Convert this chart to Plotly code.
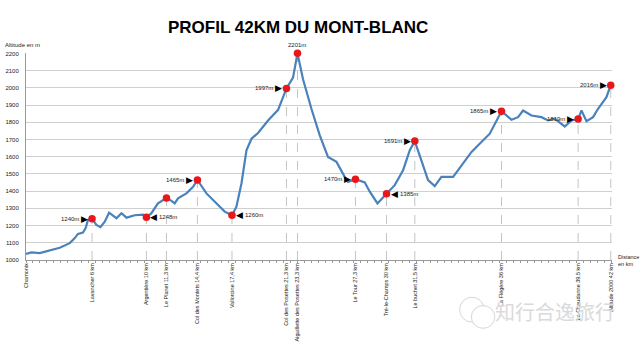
import plotly.graph_objects as go

# Elevation profile of the course (distance in km, altitude in m)
dist_km = [0.0, 0.39, 0.98, 1.70, 2.42, 3.14, 3.50, 3.73, 4.09, 4.28, 4.45, 4.74,
           5.05, 5.34, 5.65, 5.96, 6.24, 6.49, 6.85, 7.21, 7.80, 8.40, 8.64,
           9.00, 9.47, 10.08, 10.44, 10.67, 10.91, 11.51, 11.99, 12.30,
           12.95, 13.67, 14.26, 14.78, 15.10, 15.46, 15.82, 16.18, 16.65,
           17.37, 18.09, 18.69, 19.16, 19.48, 19.88, 20.48, 21.08, 21.67,
           22.28, 22.87, 23.11, 23.64, 24.31, 24.67, 25.22, 25.87, 26.46,
           27.06, 27.54, 27.90, 28.38, 28.85, 29.33, 29.81, 30.65, 31.25,
           31.97, 32.68, 33.28, 34.12, 34.84, 35.31, 35.67, 36.27, 36.99,
           37.46, 37.94, 38.66, 39.14, 39.62, 39.86, 40.22, 40.69, 41.05,
           41.65, 41.96]
alt_m = [1036, 1044, 1040, 1054, 1071, 1098, 1127, 1152, 1160, 1185, 1233, 1240,
         1204, 1191, 1223, 1275, 1258, 1243, 1272, 1246, 1260, 1264, 1248,
         1272, 1329, 1360, 1344, 1329, 1358, 1387, 1425, 1465,
         1387, 1329, 1281, 1260, 1310, 1445, 1638, 1705, 1738,
         1811, 1873, 1997, 2060, 2201, 2050, 1879, 1724, 1599,
         1570, 1483, 1454, 1470, 1451, 1397, 1329, 1385, 1435,
         1522, 1638, 1691, 1580, 1464, 1429, 1483, 1483, 1551,
         1628, 1686, 1734, 1865, 1815, 1830, 1869, 1840, 1830,
         1811, 1821, 1776, 1811, 1819, 1869, 1807, 1830, 1879,
         1946, 2016]

# Named points along the course
stop_km = [0, 4.74, 8.64, 10.08, 12.30, 14.78, 18.69, 19.48, 23.64, 25.87,
           27.90, 34.12, 39.62, 41.96]
stop_names = ["Chamonix", "Lavancher 6 km", "Argentière 10 km", "Le Planet 11,3 km",
              "Col des Montets 14,4 km", "Vallorcine 17,4 km",
              "Col des Posettes 21,3 km", "Aiguillette des Posettes 23,3 km",
              "Le Tour 27,3 km", "Tré-le-Champs 30 km", "Le buchet 31,5 km",
              "La Flégère 36 km", "La Chaudanne 39,5 km", "Altitude 2000 42 km"]

# Checkpoint markers (all stops after the start)
mark_km = stop_km[1:]
mark_alt = [1240, 1248, 1360, 1465, 1260, 1997, 2201, 1470, 1385, 1691, 1865, 1819, 2016]
mark_side = ["left", "right", None, "left", "right", "left", "top", "left", "right",
             "left", "left", "left", "left"]

y_ticks = list(range(1000, 2201, 100))

FONT = "Arial, Liberation Sans, sans-serif"
LINE_BLUE = "#4a82bc"
RED = "#e8171c"

fig = go.Figure()

fig.add_trace(go.Scatter(
    x=dist_km, y=alt_m, mode="lines",
    line=dict(color=LINE_BLUE, width=2.2),
    cliponaxis=False, hoverinfo="skip", showlegend=False,
))

# dashed drop lines from each checkpoint down to the axis
for xk, ya in zip(mark_km, mark_alt):
    fig.add_shape(type="line", x0=xk, x1=xk, y0=1000, y1=ya, xref="x", yref="y",
                  line=dict(color="#c4c4c4", width=1, dash="dash"), layer="below")

fig.add_trace(go.Scatter(
    x=mark_km, y=mark_alt, mode="markers",
    marker=dict(color=RED, size=7.5, line=dict(width=0)),
    cliponaxis=False, hoverinfo="skip", showlegend=False,
))

annotations = []
for xk, ya, side in zip(mark_km, mark_alt, mark_side):
    if side is None:
        continue
    label = f"{ya}m"
    if side == "top":
        annotations.append(dict(x=xk, y=ya, text=label, showarrow=False, yanchor="bottom",
                                yshift=3, font=dict(size=6, color="#222", family=FONT)))
    elif side == "left":
        annotations.append(dict(x=xk, y=ya, text="▶", showarrow=False, xanchor="right",
                                xshift=-2, font=dict(size=9, color="#000", family="DejaVu Sans")))
        annotations.append(dict(x=xk, y=ya, text=label, showarrow=False, xanchor="right",
                                xshift=-11, font=dict(size=6, color="#222", family=FONT)))
    else:
        annotations.append(dict(x=xk, y=ya, text="◀", showarrow=False, xanchor="left",
                                xshift=2, font=dict(size=9, color="#000", family="DejaVu Sans")))
        annotations.append(dict(x=xk, y=ya, text=label, showarrow=False, xanchor="left",
                                xshift=11, font=dict(size=6, color="#222", family=FONT)))

annotations += [
    dict(text="PROFIL 42KM DU MONT-BLANC", xref="paper", yref="paper",
         x=0.464, y=1.125, xanchor="center", yanchor="middle", showarrow=False,
         font=dict(size=17, color="#000", family="Liberation Sans, Arial", weight="bold")),
    dict(text="Altitude en m", xref="paper", yref="paper", x=-0.04, y=1.039,
         xanchor="left", yanchor="middle", showarrow=False,
         font=dict(size=6, color="#222", family=FONT)),
    dict(text="Distance<br>en km", xref="paper", yref="paper", x=1.006, y=0.0,
         xanchor="left", yanchor="middle", align="left", showarrow=False,
         font=dict(size=5.5, color="#222", family=FONT)),
    dict(text="知行合逸旅行", xref="paper", yref="paper", x=0.797, y=-0.25,
         xanchor="left", yanchor="middle", showarrow=False,
         font=dict(size=20, color="#dadada", family="Noto Sans CJK SC")),
]

# small chat-bubble logo next to the watermark
logo = [
    dict(type="circle", x0=0.740, x1=0.782, y0=-0.30, y1=-0.18),
    dict(type="circle", x0=0.760, x1=0.800, y0=-0.33, y1=-0.22),
]
for s in logo:
    fig.add_shape(xref="paper", yref="paper", line=dict(color="#d6d6d6", width=1),
                  fillcolor="rgba(255,255,255,0.9)", **s)

fig.update_layout(
    width=640, height=345,
    margin=dict(l=26, r=28, t=53, b=85),
    paper_bgcolor="white", plot_bgcolor="white",
    annotations=annotations,
    xaxis=dict(
        range=[0, 42.05], showgrid=False, zeroline=False, automargin=False,
        showline=True, linecolor="#9a9a9a", linewidth=1,
        tickmode="array", tickvals=stop_km, ticktext=stop_names, tickangle=-90,
        ticks="", tickfont=dict(size=5.5, color="#222", family=FONT),
        minor=dict(dtick=0.5, tick0=0, ticks="outside", ticklen=2, tickcolor="#9a9a9a",
                   showgrid=False),
        fixedrange=True,
    ),
    yaxis=dict(
        range=[1000, 2203], tickmode="array", tickvals=y_ticks, automargin=False,
        showgrid=True, gridcolor="#cfcfcf", gridwidth=1, zeroline=False,
        showline=True, linecolor="#9a9a9a", linewidth=1, ticks="",
        ticklabelstandoff=5,
        tickfont=dict(size=6, color="#222", family=FONT),
        fixedrange=True,
    ),
    font=dict(family=FONT),
)

fig.write_html("out.html")
